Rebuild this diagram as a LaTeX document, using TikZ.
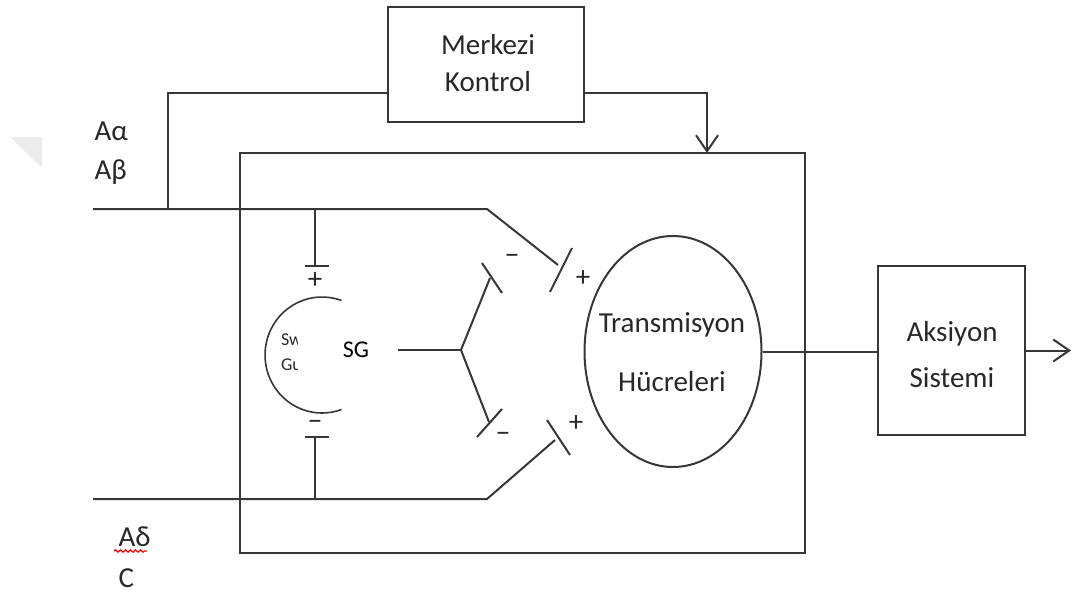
\documentclass[tikz,border=0pt]{standalone}
\usepackage{fontspec}
\setmainfont{Carlito}
\usetikzlibrary{arrows.meta,positioning,shapes.geometric,decorations.pathmorphing}
\definecolor{LineGray}{RGB}{55,55,55}
\definecolor{TextGray}{RGB}{40,40,40}

\begin{document}
\begin{tikzpicture}[x=0.5pt, y=-0.5pt, line width=1pt, draw=LineGray,
	lbl/.style={font=\fontsize{14.5}{17}\selectfont, text=TextGray},
	blok/.style={draw=LineGray, line width=1pt, inner sep=0pt},
	tip/.style={-{Straight Barb[length=8pt, width=11pt]}}]
	\useasboundingbox (0,0) rectangle (1072,594);

	% köşedeki gri üçgen
	\fill[gray!15] (10,137) -- (42,137) -- (42,168) -- cycle;

	% bloklar
	\node[blok, minimum width=98pt, minimum height=57.5pt] (mk) at (486,64.5) {};
	\node[lbl, align=center] at (488,63) {Merkezi\\[1.5pt]Kontrol};
	\node[blok, ellipse, minimum width=88.5pt, minimum height=115.5pt] (th) at (673,351.5) {};
	\node[lbl, align=center] at (672,352) {Transmisyon\\[12.5pt]Hücreleri};
	\node[blok, minimum width=73.5pt, minimum height=84.5pt] (ak) at (951.5,350.5) {};
	\node[lbl, align=center] at (952,355) {Aksiyon\\[6pt]Sistemi};

	% ana kutu
	\draw (240,153) rectangle (805,553);

	% koordinatlar
	\coordinate (inA) at (93,209);
	\coordinate (tap) at (168,209);
	\coordinate (sgT) at (315,209);
	\coordinate (bendA) at (487,209);
	\coordinate (synA) at (558,265);
	\coordinate (inB) at (93,499);
	\coordinate (sgB) at (315,499);
	\coordinate (bendB) at (487,499);
	\coordinate (synB) at (555,440);
	\coordinate (mkL) at (388,93);
	\coordinate (mkR) at (584,93);
	\coordinate (ctl) at (707,153);
	\coordinate (sgO) at (398,350);
	\coordinate (fork) at (461,350);
	\coordinate (synU) at (490,278);
	\coordinate (synL) at (489,422);
	\coordinate (sgPT) at (315,266);
	\coordinate (sgPB) at (315,437);
	\coordinate (out) at (1071,350.5);

	% girişler ve kontrol
	\draw (inA) -- (bendA) -- (synA);
	\draw (inB) -- (bendB) -- (synB);
	\draw (tap) |- (mkL);
	\draw[tip] (mkR) -| (ctl);

	% SG
	\draw (sgT) -- (sgPT);
	\draw (sgB) -- (sgPB);
	\draw (305,266) -- (329,266);
	\draw (305,437) -- (329,437);
	\draw[line width=0.8pt] (341.5,300.5) arc[start angle=-70, end angle=-290, x radius=57, y radius=58];
	\node[lbl] at (315,281) {+};
	\node[lbl] at (315,425) {−};
	\begin{scope}
		\clip (270,320) rectangle (297,385);
		\node[font=\fontsize{9}{12.5}\selectfont, text=TextGray, align=left, anchor=west, inner sep=0pt] at (280,352) {Sw\\Gu};
	\end{scope}
	\node[font=\fontsize{12}{14}\selectfont, text=black] (sg) at (356,350) {SG};

	% çatal ve sinaps uçları
	\draw (sgO) -- (fork);
	\draw (fork) -- (synU);
	\draw (fork) -- (synL);
	\draw (482,263) -- (502,293);
	\draw (477,437) -- (502,409);
	\draw (550,292) -- (572,248);
	\draw (547,420) -- (570,455);
	\node[lbl] at (512,259) {−};
	\node[lbl] at (503,437) {−};
	\node[lbl] at (583,279) {+};
	\node[lbl] at (576,424) {+};

	% çıkış
	\draw (th.east) -- (th.east -| ak.west);
	\draw[tip] (ak.east) -- (out);

	% etiketler
	\node[lbl, anchor=west] (aa) at (87,131) {Aα};
	\node[lbl, anchor=west] (ab) at (87,172) {Aβ};
	\node[lbl, anchor=west] (ad) at (111,537) {Aδ};
	\node[lbl, anchor=west] (cc) at (111,578) {C};
	\draw[red, line width=0.6pt, decorate, decoration={snake, amplitude=0.6pt, segment length=2.5pt}] (114,551) -- (147,551);
\end{tikzpicture}
\end{document}
